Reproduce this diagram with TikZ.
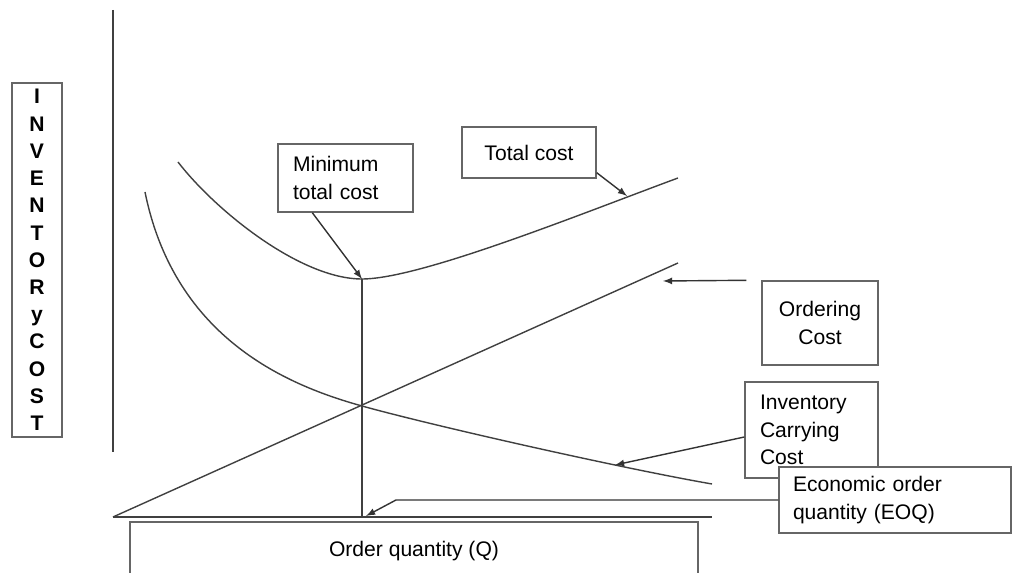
\documentclass[tikz,border=0pt]{standalone}
\usepackage{fontspec}
\setmainfont{Liberation Sans}
\usetikzlibrary{arrows, calc}
\tikzstyle{costbox} = [rectangle,
draw=black!60,
fill=white,
line width=0.8pt,
text centered,
font=\fontsize{12}{15.5}\selectfont]
\tikzstyle{curve} = [line width=0.8pt, draw=black!75]
\tikzstyle{arrow} = [line width=0.8pt, draw=black!80, ->, >=latex]

\begin{document}
\begin{tikzpicture}[x=0.02cm, y=-0.02cm]
			\clip (0,0) rectangle (1012,573);
			% axes and straight lines
			\coordinate (ytop) at (113,10);
			\coordinate (ybot) at (113,452);
			\coordinate (o) at (113,517);
			\coordinate (xend) at (712,517);
			\coordinate (ordend) at (678,263);
			\coordinate (min) at (362,279);
			\coordinate (cross) at (362,406);
			\coordinate (eoq) at (362,517);
			\coordinate (tc) at (627,196);
			\coordinate (cc) at (615,465);
			\coordinate (oc) at (663,281);

			\draw[curve] (ytop) -- (ybot);
			\draw[curve] (o) -- (xend);
			\draw[curve] (o) -- (ordend);
			\draw[curve] (min) -- (eoq);
			% total cost
			\draw[curve] (178,162) .. controls (215,210) and (300,279) .. (min)
				.. controls (420,279) and (578,215) .. (678,178);
			% carrying cost
			\draw[curve] (145,192) .. controls (175,340) and (290,386) .. (cross)
				.. controls (430,425) and (620,468) .. (712,484);

			\node (ylab) [costbox, minimum width=1cm, minimum height=7.08cm, align=center, font=\fontsize{12}{15.5}\selectfont\bfseries] at (37,260) {I\\N\\V\\E\\N\\T\\O\\R\\y\\C\\O\\S\\T};
			\node (minbox) [costbox, text width=2.1cm, inner xsep=0.3cm, minimum height=1.36cm, align=left] at (345.5,178) {Minimum\\total cost};
			\node (totbox) [costbox, minimum width=2.68cm, minimum height=1.02cm] at (529,152.5) {Total cost};
			\node (ordbox) [costbox, minimum width=2.32cm, minimum height=1.68cm, align=center] at (820,323) {Ordering\\Cost};
			\node (carbox) [costbox, text width=2.06cm, inner xsep=0.3cm, minimum height=1.92cm, align=left] at (811.5,430) {Inventory\\Carrying\\Cost};
			\node (eoqbox) [costbox, text width=4.08cm, inner xsep=0.28cm, minimum height=1.32cm, align=left] at (895,500) {Economic order\\quantity (EOQ)};
			\node (qbox) [costbox, minimum width=11.36cm, minimum height=1.16cm] at (414,551) {Order quantity (Q)};

			\draw[arrow] ($(minbox.south west)+(35,0)$) -- (min);
			\draw[arrow] ($(totbox.south east)+(0,-6)$) -- (tc);
			\draw[arrow] ($(ordbox.north west)+(-15,0)$) -- (oc);
			\draw[arrow] ($(carbox.west)+(0,7)$) -- (cc);
			\draw[arrow] (eoqbox.west) -- (396,500) -- ($(eoq)+(4,-1)$);
		\end{tikzpicture}
\end{document}
